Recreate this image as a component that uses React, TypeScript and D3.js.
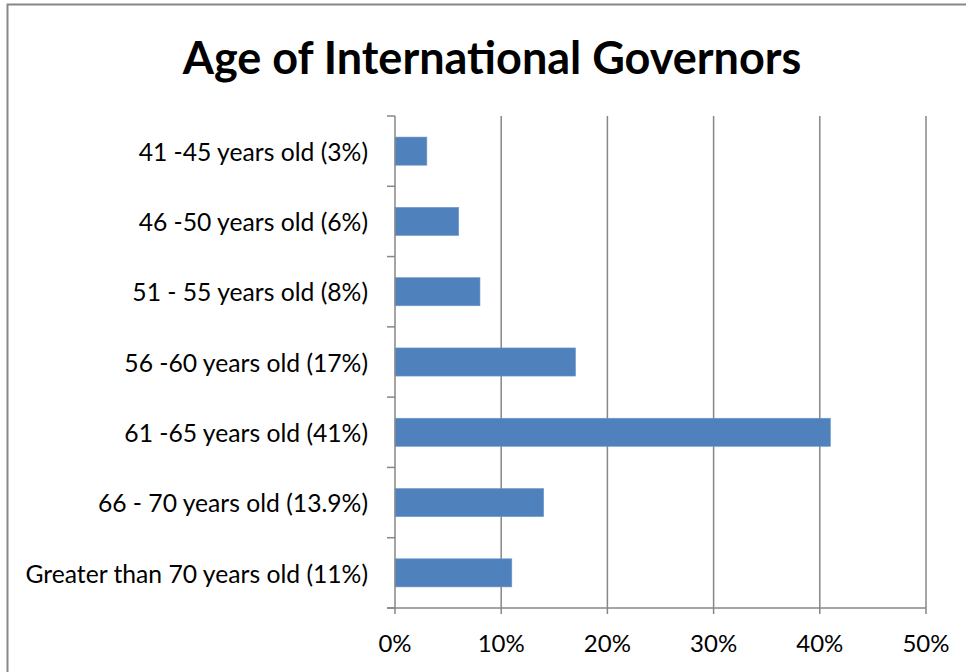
import React, { useRef, useEffect } from 'react';
import * as d3 from 'd3';

const categories = [
  '41 -45 years old (3%)',
  '46 -50 years old (6%)',
  '51 - 55 years old (8%)',
  '56 -60 years old (17%)',
  '61 -65 years old (41%)',
  '66 - 70 years old (13.9%)',
  'Greater than 70 years old (11%)',
];
const shares = [0.03, 0.06, 0.08, 0.17, 0.41, 0.14, 0.11];
const xTicks = [0, 0.1, 0.2, 0.3, 0.4, 0.5];
const title = 'Age of International Governors';

const W = 966;
const H = 672;
const FONT = 'Lato, "Open Sans", sans-serif';
const GREY = '#878787';

const App = () => {
  const svgRef = useRef<SVGSVGElement>(null);

  useEffect(() => {
    const svg = d3.select(svgRef.current);
    svg.selectAll('*').remove();

    // frame of the chart
    svg.append('rect')
      .attr('x', 7.5).attr('y', 4.5)
      .attr('width', W + 20).attr('height', H + 20)
      .attr('fill', '#fff')
      .attr('stroke', GREY).attr('stroke-width', 2);

    svg.append('text')
      .attr('x', 492).attr('y', 74)
      .attr('text-anchor', 'middle')
      .attr('font-family', FONT).attr('font-weight', 'bold')
      .attr('font-size', 45)
      .text(title);

    const x = d3.scaleLinear().domain([0, 0.5]).range([395, 926]);
    const y = d3.scaleBand().domain(categories).range([116, 608])
      .paddingInner(0.6).paddingOuter(0.3);
    const step = y.step();
    const top = 116, bottom = 608;

    // vertical gridlines
    svg.append('g').selectAll('line')
      .data(xTicks.slice(1))
      .join('line')
      .attr('x1', d => x(d)).attr('x2', d => x(d))
      .attr('y1', top).attr('y2', bottom)
      .attr('stroke', GREY).attr('stroke-width', 1.5);

    // bars
    svg.append('g').selectAll('rect')
      .data(shares)
      .join('rect')
      .attr('x', x(0))
      .attr('y', (d, i) => y(categories[i]) as number)
      .attr('width', d => x(d) - x(0))
      .attr('height', y.bandwidth())
      .attr('fill', '#4F81BD')
      .attr('stroke', '#6f98c9').attr('stroke-width', 0.6);

    // category axis: line + ticks at band boundaries
    const yAxis = svg.append('g');
    yAxis.append('line')
      .attr('x1', x(0)).attr('x2', x(0))
      .attr('y1', top).attr('y2', bottom)
      .attr('stroke', GREY).attr('stroke-width', 1.5);
    yAxis.selectAll('line.tick')
      .data(d3.range(categories.length + 1))
      .join('line')
      .attr('class', 'tick')
      .attr('x1', x(0) - 8).attr('x2', x(0))
      .attr('y1', i => top + i * step).attr('y2', i => top + i * step)
      .attr('stroke', GREY).attr('stroke-width', 1.5);
    yAxis.selectAll('text')
      .data(categories)
      .join('text')
      .attr('x', 368)
      .attr('y', d => (y(d) as number) + y.bandwidth() / 2 + 1)
      .attr('dy', '0.35em')
      .attr('text-anchor', 'end')
      .attr('font-family', FONT).attr('font-size', 24.7)
      .text(d => d);

    // value axis
    const xAxis = svg.append('g');
    xAxis.append('line')
      .attr('x1', x(0) - 8).attr('x2', x(0.5))
      .attr('y1', bottom).attr('y2', bottom)
      .attr('stroke', GREY).attr('stroke-width', 1.5);
    xAxis.selectAll('line.tick')
      .data(xTicks)
      .join('line')
      .attr('class', 'tick')
      .attr('x1', d => x(d)).attr('x2', d => x(d))
      .attr('y1', bottom).attr('y2', bottom + 6)
      .attr('stroke', GREY).attr('stroke-width', 1.5);
    xAxis.selectAll('text')
      .data(xTicks)
      .join('text')
      .attr('x', d => x(d))
      .attr('y', 652)
      .attr('text-anchor', 'middle')
      .attr('font-family', FONT).attr('font-size', 24)
      .text(d => d3.format('.0%')(d));
  }, []);

  return (
    <svg ref={svgRef} width={W} height={H}
      style={{ position: 'absolute', left: 0, top: 0 }} />
  );
};

export default App;
